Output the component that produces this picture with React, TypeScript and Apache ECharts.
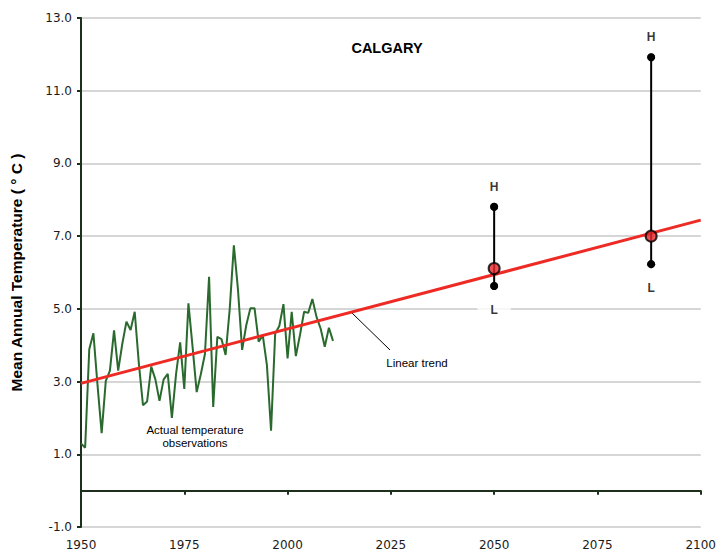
import React, { useEffect, useRef } from "react";
import * as echarts from "echarts";

const obsYears = [
  1950, 1951, 1952, 1953, 1954, 1955, 1956, 1957, 1958, 1959,
  1960, 1961, 1962, 1963, 1964, 1965, 1966, 1967, 1968, 1969,
  1970, 1971, 1972, 1973, 1974, 1975, 1976, 1977, 1978, 1979,
  1980, 1981, 1982, 1983, 1984, 1985, 1986, 1987, 1988, 1989,
  1990, 1991, 1992, 1993, 1994, 1995, 1996, 1997, 1998, 1999,
  2000, 2001, 2002, 2003, 2004, 2005, 2006, 2007, 2008, 2009,
  2010, 2011,
];
const obsTemps = [
  1.3, 1.18, 3.89, 4.33, 2.9, 1.58, 3.02, 3.3, 4.41, 3.3,
  4.04, 4.65, 4.42, 4.92, 3.5, 2.35, 2.45, 3.41, 3.06, 2.47,
  3.06, 3.21, 2.0, 3.2, 4.08, 2.8, 5.15, 3.96, 2.71, 3.2,
  3.76, 5.88, 2.3, 4.23, 4.17, 3.73, 5.0, 6.75, 5.52, 3.87,
  4.55, 5.02, 5.02, 4.1, 4.27, 3.45, 1.65, 4.32, 4.53, 5.13,
  3.64, 4.92, 3.7, 4.28, 4.92, 4.89, 5.27, 4.78, 4.46, 3.96,
  4.48, 4.12,
];

const trendYears = [1950, 2100];
const trendTemps = [2.95, 7.44];

const projYears = [2050, 2088];
const projHigh = [7.81, 11.92];
const projMid = [6.11, 7.0];
const projLow = [5.63, 6.23];

const xTicks = { min: 1950, max: 2100, step: 25 };
const yTicks = { min: -1, max: 13, step: 2 };

const AXIS_COLOR = "#1d301d";
const GRID_COLOR = "#c8c8c8";

export default function App() {
  const ref = useRef<HTMLDivElement>(null);

  useEffect(() => {
    if (!ref.current) return;
    const chart = echarts.init(ref.current, null, { renderer: "svg" });

    const projSeries: any[] = [];
    projYears.forEach((yr, i) => {
      projSeries.push({
        type: "line",
        xAxisIndex: 0,
        data: [
          [yr, projLow[i]],
          [yr, projHigh[i]],
        ],
        lineStyle: { color: "#000", width: 2 },
        symbol: "circle",
        symbolSize: 8,
        itemStyle: { color: "#000" },
        z: 4,
      });
    });

    const hPoints = projYears.map((yr, i) => [yr, projHigh[i]]);
    const lPoints = projYears.map((yr, i) => [yr, projLow[i]]);
    const midPoints = projYears.map((yr, i) => [yr, projMid[i]]);

    chart.setOption({
      animation: false,
      backgroundColor: "#fff",
      grid: { left: 80, right: 12, top: 18, bottom: 27, containLabel: false },
      xAxis: [
        {
          type: "value",
          min: xTicks.min,
          max: xTicks.max,
          interval: xTicks.step,
          position: "bottom",
          axisLine: { show: false, onZero: false },
          axisTick: { show: false },
          splitLine: { show: false },
          axisLabel: {
            show: true,
            color: "#1a1a1a",
            fontFamily: "DejaVu Sans",
            fontSize: 12,
            margin: 12,
            formatter: (v: number) => String(v),
          },
        },
        {
          type: "value",
          min: xTicks.min,
          max: xTicks.max,
          interval: xTicks.step,
          position: "bottom",
          axisLine: {
            show: true,
            onZero: true,
            lineStyle: { color: AXIS_COLOR, width: 2 },
          },
          axisTick: {
            show: true,
            inside: false,
            length: 4,
            lineStyle: { color: AXIS_COLOR, width: 2 },
          },
          axisLabel: { show: false },
          splitLine: { show: false },
        },
      ],
      yAxis: {
        type: "value",
        min: yTicks.min,
        max: yTicks.max,
        interval: yTicks.step,
        name: "Mean Annual Temperature ( ° C )",
        nameLocation: "middle",
        nameGap: 57,
        nameTextStyle: {
          fontFamily: "Liberation Sans, Arial",
          fontWeight: "bold",
          fontSize: 15.5,
          color: "#000",
        },
        axisLine: {
          show: true,
          onZero: false,
          lineStyle: { color: AXIS_COLOR, width: 2 },
        },
        axisTick: {
          show: true,
          inside: false,
          length: 4,
          lineStyle: { color: AXIS_COLOR, width: 2 },
        },
        axisLabel: {
          color: "#1a1a1a",
          fontFamily: "DejaVu Sans",
          fontSize: 12,
          margin: 9,
          formatter: (v: number) => v.toFixed(1),
        },
        splitLine: { show: true, lineStyle: { color: GRID_COLOR, width: 1.5 } },
      },
      series: [
        {
          type: "line",
          name: "Observations",
          data: obsYears.map((y, i) => [y, obsTemps[i]]),
          showSymbol: false,
          symbol: "none",
          lineStyle: { color: "#2a6a2e", width: 2 },
          z: 2,
        },
        {
          type: "line",
          name: "Linear trend",
          data: trendYears.map((y, i) => [y, trendTemps[i]]),
          showSymbol: false,
          symbol: "none",
          lineStyle: { color: "#ee2a25", width: 3 },
          z: 3,
        },
        ...projSeries,
        {
          type: "scatter",
          data: hPoints,
          symbol: "circle",
          symbolSize: 8,
          itemStyle: { color: "#000" },
          label: {
            show: true,
            position: "top",
            distance: 10,
            formatter: "H",
            fontFamily: "Liberation Sans, Arial",
            fontWeight: "bold",
            fontSize: 12,
            color: "#000",
          },
          z: 5,
        },
        {
          type: "scatter",
          data: lPoints,
          symbol: "circle",
          symbolSize: 8,
          itemStyle: { color: "#000" },
          label: {
            show: true,
            position: "bottom",
            distance: 12,
            formatter: "L",
            fontFamily: "Liberation Sans, Arial",
            fontWeight: "bold",
            fontSize: 12,
            color: "#000",
            backgroundColor: "#fff",
            padding: [2, 13],
          },
          z: 5,
        },
        {
          type: "scatter",
          data: midPoints,
          symbol: "circle",
          symbolSize: 11,
          itemStyle: { color: "#e8262a", borderColor: "#000", borderWidth: 2 },
          z: 6,
        },
      ],
      graphic: [
        {
          type: "text",
          x: 387,
          y: 48,
          style: {
            text: "CALGARY",
            fontFamily: "Liberation Sans, Arial",
            fontWeight: "bold",
            fontSize: 14.5,
            fill: "#000",
            align: "center",
            verticalAlign: "middle",
          },
        },
        {
          type: "line",
          shape: { x1: 351, y1: 312, x2: 390, y2: 350 },
          style: { stroke: "#000", lineWidth: 1 },
        },
        {
          type: "text",
          x: 417,
          y: 363,
          style: {
            text: "Linear trend",
            fontFamily: "Liberation Sans, Arial",
            fontSize: 11.5,
            fill: "#000",
            align: "center",
            verticalAlign: "middle",
          },
        },
        {
          type: "text",
          x: 195,
          y: 436,
          style: {
            text: "Actual temperature\nobservations",
            fontFamily: "Liberation Sans, Arial",
            fontSize: 11.5,
            lineHeight: 13,
            fill: "#000",
            align: "center",
            verticalAlign: "middle",
          },
        },
      ],
    });

    return () => chart.dispose();
  }, []);

  return (
    <div
      ref={ref}
      style={{ position: "fixed", left: 0, top: 0, width: 719, height: 554 }}
    />
  );
}
